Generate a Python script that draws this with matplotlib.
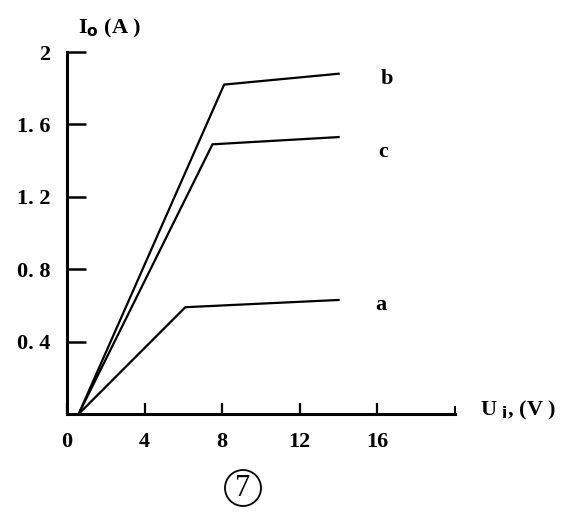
import matplotlib
matplotlib.use("Agg")
import matplotlib.pyplot as plt
from matplotlib.patches import Ellipse

# curve data: (Ui, Io)
curve_names = ["a", "b", "c"]
curve_u = {
    "a": [0.6, 6.1, 14.0],
    "b": [0.6, 8.1, 14.0],
    "c": [0.6, 7.5, 14.0],
}
curve_i = {
    "a": [0.0, 0.59, 0.63],
    "b": [0.0, 1.82, 1.88],
    "c": [0.0, 1.49, 1.53],
}
x_ticks = [0, 4, 8, 12, 16]
x_labels = ["0", "4", "8", "12", "16"]
y_ticks = [0.4, 0.8, 1.2, 1.6, 2.0]
y_labels = ["0. 4", "0. 8", "1. 2", "1. 6", "2"]

serif = "Liberation Serif"

fig = plt.figure(figsize=(5.84, 5.16), dpi=100)
ax = fig.add_axes([67 / 584, 102 / 516, 388 / 584, 362 / 516])

# where each curve's letter sits, in data units
label_pos = {"a": (16.2, 0.60), "b": (16.5, 1.85), "c": (16.3, 1.45)}

for name in curve_names:
    ax.plot(curve_u[name], curve_i[name], color="black", lw=1.6,
            solid_joinstyle="miter")
    ax.text(label_pos[name][0], label_pos[name][1], name,
            fontsize=16, fontweight="bold", family=serif,
            ha="center", va="center")

ax.set_xlim(0, 20)
ax.set_ylim(0, 2)
for s in ["top", "right"]:
    ax.spines[s].set_visible(False)
for s in ["left", "bottom"]:
    ax.spines[s].set_linewidth(2.2)
    ax.spines[s].set_color("black")

ax.set_xticks(x_ticks)
ax.set_xticklabels(x_labels)
ax.set_xticks([20], minor=True)
ax.set_yticks(y_ticks)
ax.set_yticklabels(y_labels)
ax.tick_params(axis="x", direction="in", length=8, width=1.6, pad=13,
               labelsize=16)
ax.tick_params(axis="x", which="minor", direction="in", length=6, width=1.4)
ax.tick_params(axis="y", direction="in", length=14, width=1.8, pad=12,
               labelsize=16)
for lab in ax.get_xticklabels() + ax.get_yticklabels():
    lab.set_family(serif)
    lab.set_fontweight("bold")

fig.text(110 / 584, 1 - 28 / 516, r"I$_{\mathbf{o}}$ (A )", fontsize=16,
         fontweight="bold", family=serif, ha="center", va="center")
fig.text(518 / 584, 1 - 410 / 516, r"U $_{\mathbf{i}}$, (V )", fontsize=16,
         fontweight="bold", family=serif, ha="center", va="center")

# circled figure number
fig.patches.append(Ellipse((243 / 584, 1 - 488 / 516), 36 / 584, 36 / 516,
                           transform=fig.transFigure, fill=False,
                           edgecolor="black", lw=1.3))
fig.text(243 / 584, 1 - 489 / 516, "7", fontsize=22, family=serif,
         ha="center", va="center")

fig.savefig("out.png", dpi=100, facecolor="white")
